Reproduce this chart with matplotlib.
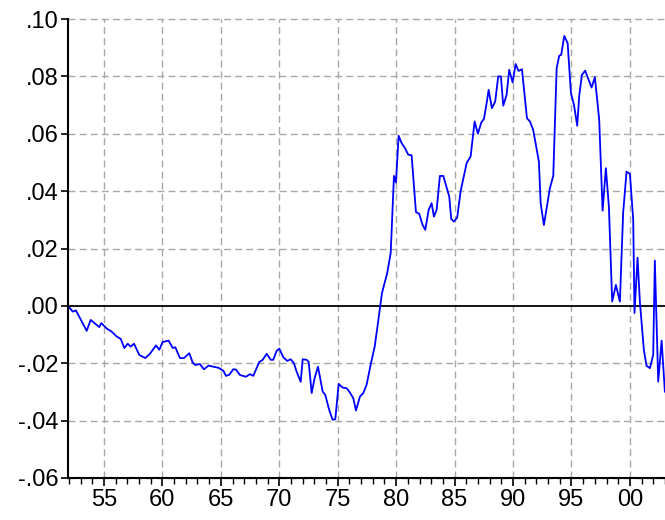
import numpy as np
import matplotlib.pyplot as plt
from matplotlib.ticker import FixedLocator, MultipleLocator, FuncFormatter

# Valores (fecha en anos, valor de la serie)
years = [
    1952.03, 1952.32, 1952.60, 1953.52, 1953.86, 1954.60, 1954.77, 1955.23, 1955.66, 1956.09,
    1956.43, 1956.74, 1957.03, 1957.28, 1957.57, 1958.02, 1958.53, 1958.93, 1959.45, 1959.73,
    1960.02, 1960.53, 1960.88, 1961.10, 1961.50, 1961.84, 1962.30, 1962.59, 1962.81, 1963.21,
    1963.55, 1963.96, 1964.35, 1964.81, 1965.21, 1965.44, 1965.72, 1966.06, 1966.29, 1966.63,
    1967.15, 1967.49, 1967.77, 1968.28, 1968.58, 1968.92, 1969.26, 1969.48, 1969.77, 1970.00,
    1970.34, 1970.68, 1970.97, 1971.25, 1971.48, 1971.83, 1972.00, 1972.34, 1972.51, 1972.77,
    1973.02, 1973.31, 1973.71, 1973.93, 1974.27, 1974.56, 1974.79, 1975.08, 1975.42, 1975.76,
    1976.04, 1976.33, 1976.56, 1976.90, 1977.18, 1977.47, 1977.81, 1978.16, 1978.44, 1978.78,
    1979.23, 1979.53, 1979.81, 1979.98, 1980.21, 1980.47, 1980.75, 1981.03, 1981.32, 1981.69,
    1981.97, 1982.26, 1982.49, 1982.78, 1983.03, 1983.23, 1983.46, 1983.74, 1984.03, 1984.54,
    1984.71, 1984.94, 1985.22, 1985.51, 1986.03, 1986.37, 1986.71, 1986.99, 1987.28, 1987.51,
    1987.74, 1987.91, 1988.19, 1988.47, 1988.73, 1988.96, 1989.16, 1989.45, 1989.67, 1989.96,
    1990.22, 1990.47, 1990.76, 1991.19, 1991.44, 1991.72, 1992.21, 1992.36, 1992.64, 1993.15,
    1993.44, 1993.73, 1993.95, 1994.12, 1994.38, 1994.67, 1994.95, 1995.21, 1995.49, 1995.66,
    1995.89, 1996.17, 1996.72, 1997.00, 1997.37, 1997.66, 1997.94, 1998.20, 1998.48, 1998.80,
    1999.14, 1999.42, 1999.71, 2000.00, 2000.28, 2000.39, 2000.65, 2000.85, 2001.19, 2001.42,
    2001.71, 2001.99, 2002.13, 2002.42, 2002.71, 2002.99,
]
values = [
    -0.0005, -0.0020, -0.0016, -0.0087, -0.0049, -0.0074, -0.0060, -0.0079, -0.0090, -0.0107,
    -0.0115, -0.0147, -0.0132, -0.0142, -0.0132, -0.0171, -0.0182, -0.0167, -0.0138, -0.0153,
    -0.0126, -0.0121, -0.0147, -0.0144, -0.0182, -0.0182, -0.0165, -0.0198, -0.0206, -0.0203,
    -0.0221, -0.0208, -0.0212, -0.0216, -0.0226, -0.0244, -0.0240, -0.0221, -0.0222, -0.0241,
    -0.0247, -0.0238, -0.0244, -0.0196, -0.0188, -0.0167, -0.0188, -0.0188, -0.0157, -0.0149,
    -0.0179, -0.0192, -0.0186, -0.0200, -0.0229, -0.0265, -0.0186, -0.0188, -0.0195, -0.0304,
    -0.0252, -0.0212, -0.0299, -0.0310, -0.0363, -0.0397, -0.0395, -0.0272, -0.0285, -0.0287,
    -0.0302, -0.0322, -0.0365, -0.0316, -0.0304, -0.0275, -0.0206, -0.0142, -0.0060, 0.0044,
    0.0114, 0.0184, 0.0453, 0.0430, 0.0593, 0.0567, 0.0550, 0.0527, 0.0525, 0.0327,
    0.0321, 0.0282, 0.0265, 0.0335, 0.0358, 0.0311, 0.0335, 0.0453, 0.0453, 0.0381,
    0.0303, 0.0294, 0.0308, 0.0399, 0.0498, 0.0521, 0.0643, 0.0600, 0.0639, 0.0652,
    0.0707, 0.0753, 0.0689, 0.0712, 0.0800, 0.0800, 0.0698, 0.0736, 0.0823, 0.0779,
    0.0843, 0.0819, 0.0825, 0.0654, 0.0643, 0.0614, 0.0503, 0.0358, 0.0282, 0.0410,
    0.0453, 0.0829, 0.0872, 0.0875, 0.0941, 0.0916, 0.0742, 0.0701, 0.0628, 0.0732,
    0.0805, 0.0820, 0.0761, 0.0797, 0.0649, 0.0332, 0.0480, 0.0346, 0.0015, 0.0073,
    0.0015, 0.0325, 0.0468, 0.0460, 0.0300, -0.0025, 0.0168, 0.0015, -0.0153, -0.0209,
    -0.0217, -0.0171, 0.0158, -0.0264, -0.0121, -0.0299,
]

major_years = [1955, 1960, 1965, 1970, 1975, 1980, 1985, 1990, 1995, 2000]
major_labels = ['55', '60', '65', '70', '75', '80', '85', '90', '95', '00']
y_ticks = [-0.06, -0.04, -0.02, 0.00, 0.02, 0.04, 0.06, 0.08, 0.10]

plt.rcParams['font.family'] = ['Liberation Sans', 'DejaVu Sans']

fig = plt.figure(figsize=(6.65, 5.2), dpi=100)
ax = fig.add_axes([68 / 665, 42 / 520, 1 - 68 / 665, 459 / 520])

ax.set_xlim(1951.92, 2003.0)
ax.set_ylim(-0.06, 0.10)

# Cuadricula gris discontinua
grid_style = dict(color='#a8a8a8', lw=1.0, dashes=(5, 3), zorder=1)
for yr in major_years:
    ax.axvline(yr, **grid_style)
for v in y_ticks:
    if v != 0:
        ax.axhline(v, clip_on=False, **grid_style)
ax.axhline(0, color='black', lw=1.3, zorder=2)

ax.plot(years, values, color='#0000ff', lw=1.3, zorder=3)

ax.xaxis.set_major_locator(FixedLocator(major_years))
ax.xaxis.set_minor_locator(MultipleLocator(1))
ax.set_xticklabels(major_labels)
ax.set_yticks(y_ticks)
ax.yaxis.set_major_formatter(FuncFormatter(lambda v, p: ('%.2f' % v).replace('0.', '.')))

ax.tick_params(axis='x', which='major', direction='out', length=6, width=1.2,
               labelsize=17, pad=2)
ax.tick_params(axis='x', which='minor', direction='out', length=4, width=1.0)
ax.tick_params(axis='y', which='major', direction='out', length=5, width=1.2,
               labelsize=17, pad=2)

for s in ['top', 'right']:
    ax.spines[s].set_visible(False)
for s in ['left', 'bottom']:
    ax.spines[s].set_linewidth(1.5)
    ax.spines[s].set_zorder(4)

fig.savefig('out.png', dpi=100)
